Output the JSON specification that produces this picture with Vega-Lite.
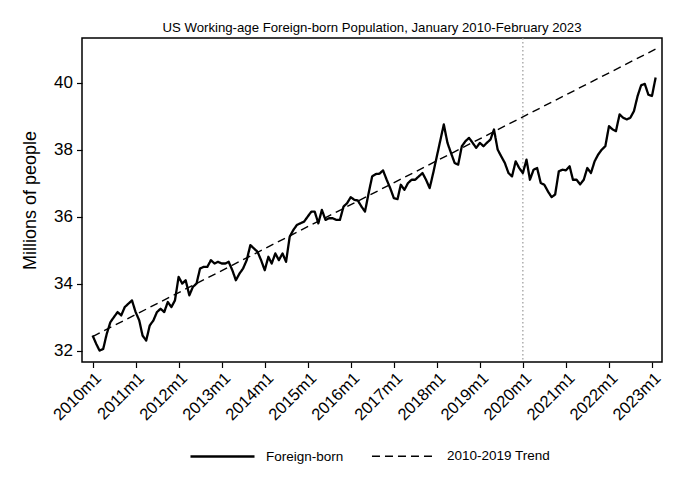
{
  "$schema": "https://vega.github.io/schema/vega-lite/v6.json",
  "width": 580,
  "height": 324,
  "padding": {"left": 21, "top": 21, "right": 15, "bottom": 5},
  "background": "white",
  "title": {"text": "US Working-age Foreign-born Population, January 2010-February 2023", "fontSize": 13.2, "font": "Liberation Sans", "fontWeight": "normal", "color": "black", "anchor": "middle", "offset": 2},
  "config": {
    "font": "Liberation Sans",
    "view": {"stroke": "black", "strokeWidth": 1.5},
    "axis": {"grid": false, "domain": false, "tickColor": "black", "tickSize": 5.5, "tickWidth": 1.2, "labelColor": "black", "titleColor": "black", "titleFontWeight": "normal"}
  },
  "datasets": {
    "pop": [
      {"date":"2010-01-01","series":"Foreign-born","value":32.45},
      {"date":"2010-02-01","series":"Foreign-born","value":32.2},
      {"date":"2010-03-01","series":"Foreign-born","value":32.0},
      {"date":"2010-04-01","series":"Foreign-born","value":32.05},
      {"date":"2010-05-01","series":"Foreign-born","value":32.5},
      {"date":"2010-06-01","series":"Foreign-born","value":32.85},
      {"date":"2010-07-01","series":"Foreign-born","value":33.0},
      {"date":"2010-08-01","series":"Foreign-born","value":33.15},
      {"date":"2010-09-01","series":"Foreign-born","value":33.05},
      {"date":"2010-10-01","series":"Foreign-born","value":33.3},
      {"date":"2010-11-01","series":"Foreign-born","value":33.4},
      {"date":"2010-12-01","series":"Foreign-born","value":33.5},
      {"date":"2011-01-01","series":"Foreign-born","value":33.15},
      {"date":"2011-02-01","series":"Foreign-born","value":32.9},
      {"date":"2011-03-01","series":"Foreign-born","value":32.45},
      {"date":"2011-04-01","series":"Foreign-born","value":32.3},
      {"date":"2011-05-01","series":"Foreign-born","value":32.75},
      {"date":"2011-06-01","series":"Foreign-born","value":32.9},
      {"date":"2011-07-01","series":"Foreign-born","value":33.15},
      {"date":"2011-08-01","series":"Foreign-born","value":33.25},
      {"date":"2011-09-01","series":"Foreign-born","value":33.15},
      {"date":"2011-10-01","series":"Foreign-born","value":33.45},
      {"date":"2011-11-01","series":"Foreign-born","value":33.3},
      {"date":"2011-12-01","series":"Foreign-born","value":33.5},
      {"date":"2012-01-01","series":"Foreign-born","value":34.2},
      {"date":"2012-02-01","series":"Foreign-born","value":34.0},
      {"date":"2012-03-01","series":"Foreign-born","value":34.1},
      {"date":"2012-04-01","series":"Foreign-born","value":33.65},
      {"date":"2012-05-01","series":"Foreign-born","value":33.9},
      {"date":"2012-06-01","series":"Foreign-born","value":34.0},
      {"date":"2012-07-01","series":"Foreign-born","value":34.45},
      {"date":"2012-08-01","series":"Foreign-born","value":34.5},
      {"date":"2012-09-01","series":"Foreign-born","value":34.5},
      {"date":"2012-10-01","series":"Foreign-born","value":34.7},
      {"date":"2012-11-01","series":"Foreign-born","value":34.6},
      {"date":"2012-12-01","series":"Foreign-born","value":34.65},
      {"date":"2013-01-01","series":"Foreign-born","value":34.6},
      {"date":"2013-02-01","series":"Foreign-born","value":34.6},
      {"date":"2013-03-01","series":"Foreign-born","value":34.65},
      {"date":"2013-04-01","series":"Foreign-born","value":34.4},
      {"date":"2013-05-01","series":"Foreign-born","value":34.1},
      {"date":"2013-06-01","series":"Foreign-born","value":34.3},
      {"date":"2013-07-01","series":"Foreign-born","value":34.45},
      {"date":"2013-08-01","series":"Foreign-born","value":34.7},
      {"date":"2013-09-01","series":"Foreign-born","value":35.15},
      {"date":"2013-10-01","series":"Foreign-born","value":35.05},
      {"date":"2013-11-01","series":"Foreign-born","value":34.95},
      {"date":"2013-12-01","series":"Foreign-born","value":34.7},
      {"date":"2014-01-01","series":"Foreign-born","value":34.4},
      {"date":"2014-02-01","series":"Foreign-born","value":34.8},
      {"date":"2014-03-01","series":"Foreign-born","value":34.6},
      {"date":"2014-04-01","series":"Foreign-born","value":34.9},
      {"date":"2014-05-01","series":"Foreign-born","value":34.7},
      {"date":"2014-06-01","series":"Foreign-born","value":34.9},
      {"date":"2014-07-01","series":"Foreign-born","value":34.65},
      {"date":"2014-08-01","series":"Foreign-born","value":35.4},
      {"date":"2014-09-01","series":"Foreign-born","value":35.6},
      {"date":"2014-10-01","series":"Foreign-born","value":35.75},
      {"date":"2014-11-01","series":"Foreign-born","value":35.8},
      {"date":"2014-12-01","series":"Foreign-born","value":35.85},
      {"date":"2015-01-01","series":"Foreign-born","value":36.0},
      {"date":"2015-02-01","series":"Foreign-born","value":36.15},
      {"date":"2015-03-01","series":"Foreign-born","value":36.15},
      {"date":"2015-04-01","series":"Foreign-born","value":35.8},
      {"date":"2015-05-01","series":"Foreign-born","value":36.2},
      {"date":"2015-06-01","series":"Foreign-born","value":35.9},
      {"date":"2015-07-01","series":"Foreign-born","value":35.95},
      {"date":"2015-08-01","series":"Foreign-born","value":35.95},
      {"date":"2015-09-01","series":"Foreign-born","value":35.9},
      {"date":"2015-10-01","series":"Foreign-born","value":35.9},
      {"date":"2015-11-01","series":"Foreign-born","value":36.3},
      {"date":"2015-12-01","series":"Foreign-born","value":36.4},
      {"date":"2016-01-01","series":"Foreign-born","value":36.58},
      {"date":"2016-02-01","series":"Foreign-born","value":36.5},
      {"date":"2016-03-01","series":"Foreign-born","value":36.48},
      {"date":"2016-04-01","series":"Foreign-born","value":36.3},
      {"date":"2016-05-01","series":"Foreign-born","value":36.15},
      {"date":"2016-06-01","series":"Foreign-born","value":36.7},
      {"date":"2016-07-01","series":"Foreign-born","value":37.2},
      {"date":"2016-08-01","series":"Foreign-born","value":37.27},
      {"date":"2016-09-01","series":"Foreign-born","value":37.28},
      {"date":"2016-10-01","series":"Foreign-born","value":37.38},
      {"date":"2016-11-01","series":"Foreign-born","value":37.1},
      {"date":"2016-12-01","series":"Foreign-born","value":36.85},
      {"date":"2017-01-01","series":"Foreign-born","value":36.55},
      {"date":"2017-02-01","series":"Foreign-born","value":36.52},
      {"date":"2017-03-01","series":"Foreign-born","value":36.95},
      {"date":"2017-04-01","series":"Foreign-born","value":36.8},
      {"date":"2017-05-01","series":"Foreign-born","value":37.0},
      {"date":"2017-06-01","series":"Foreign-born","value":37.1},
      {"date":"2017-07-01","series":"Foreign-born","value":37.1},
      {"date":"2017-08-01","series":"Foreign-born","value":37.2},
      {"date":"2017-09-01","series":"Foreign-born","value":37.3},
      {"date":"2017-10-01","series":"Foreign-born","value":37.1},
      {"date":"2017-11-01","series":"Foreign-born","value":36.85},
      {"date":"2017-12-01","series":"Foreign-born","value":37.3},
      {"date":"2018-01-01","series":"Foreign-born","value":37.8},
      {"date":"2018-02-01","series":"Foreign-born","value":38.3},
      {"date":"2018-03-01","series":"Foreign-born","value":38.75},
      {"date":"2018-04-01","series":"Foreign-born","value":38.2},
      {"date":"2018-05-01","series":"Foreign-born","value":37.9},
      {"date":"2018-06-01","series":"Foreign-born","value":37.6},
      {"date":"2018-07-01","series":"Foreign-born","value":37.55},
      {"date":"2018-08-01","series":"Foreign-born","value":38.1},
      {"date":"2018-09-01","series":"Foreign-born","value":38.25},
      {"date":"2018-10-01","series":"Foreign-born","value":38.35},
      {"date":"2018-11-01","series":"Foreign-born","value":38.2},
      {"date":"2018-12-01","series":"Foreign-born","value":38.05},
      {"date":"2019-01-01","series":"Foreign-born","value":38.2},
      {"date":"2019-02-01","series":"Foreign-born","value":38.1},
      {"date":"2019-03-01","series":"Foreign-born","value":38.2},
      {"date":"2019-04-01","series":"Foreign-born","value":38.3},
      {"date":"2019-05-01","series":"Foreign-born","value":38.6},
      {"date":"2019-06-01","series":"Foreign-born","value":38.0},
      {"date":"2019-07-01","series":"Foreign-born","value":37.8},
      {"date":"2019-08-01","series":"Foreign-born","value":37.6},
      {"date":"2019-09-01","series":"Foreign-born","value":37.3},
      {"date":"2019-10-01","series":"Foreign-born","value":37.2},
      {"date":"2019-11-01","series":"Foreign-born","value":37.65},
      {"date":"2019-12-01","series":"Foreign-born","value":37.45},
      {"date":"2020-01-01","series":"Foreign-born","value":37.3},
      {"date":"2020-02-01","series":"Foreign-born","value":37.7},
      {"date":"2020-03-01","series":"Foreign-born","value":37.1},
      {"date":"2020-04-01","series":"Foreign-born","value":37.4},
      {"date":"2020-05-01","series":"Foreign-born","value":37.45},
      {"date":"2020-06-01","series":"Foreign-born","value":37.0},
      {"date":"2020-07-01","series":"Foreign-born","value":36.95},
      {"date":"2020-08-01","series":"Foreign-born","value":36.75},
      {"date":"2020-09-01","series":"Foreign-born","value":36.58},
      {"date":"2020-10-01","series":"Foreign-born","value":36.66},
      {"date":"2020-11-01","series":"Foreign-born","value":37.35},
      {"date":"2020-12-01","series":"Foreign-born","value":37.4},
      {"date":"2021-01-01","series":"Foreign-born","value":37.38},
      {"date":"2021-02-01","series":"Foreign-born","value":37.5},
      {"date":"2021-03-01","series":"Foreign-born","value":37.1},
      {"date":"2021-04-01","series":"Foreign-born","value":37.1},
      {"date":"2021-05-01","series":"Foreign-born","value":36.96},
      {"date":"2021-06-01","series":"Foreign-born","value":37.1},
      {"date":"2021-07-01","series":"Foreign-born","value":37.45},
      {"date":"2021-08-01","series":"Foreign-born","value":37.3},
      {"date":"2021-09-01","series":"Foreign-born","value":37.65},
      {"date":"2021-10-01","series":"Foreign-born","value":37.85},
      {"date":"2021-11-01","series":"Foreign-born","value":38.0},
      {"date":"2021-12-01","series":"Foreign-born","value":38.1},
      {"date":"2022-01-01","series":"Foreign-born","value":38.7},
      {"date":"2022-02-01","series":"Foreign-born","value":38.6},
      {"date":"2022-03-01","series":"Foreign-born","value":38.55},
      {"date":"2022-04-01","series":"Foreign-born","value":39.05},
      {"date":"2022-05-01","series":"Foreign-born","value":38.95},
      {"date":"2022-06-01","series":"Foreign-born","value":38.9},
      {"date":"2022-07-01","series":"Foreign-born","value":38.95},
      {"date":"2022-08-01","series":"Foreign-born","value":39.15},
      {"date":"2022-09-01","series":"Foreign-born","value":39.6},
      {"date":"2022-10-01","series":"Foreign-born","value":39.92},
      {"date":"2022-11-01","series":"Foreign-born","value":39.96},
      {"date":"2022-12-01","series":"Foreign-born","value":39.64},
      {"date":"2023-01-01","series":"Foreign-born","value":39.6},
      {"date":"2023-02-01","series":"Foreign-born","value":40.15},
      {"date":"2010-01-01","series":"2010-2019 Trend","value":32.42},
      {"date":"2023-02-01","series":"2010-2019 Trend","value":41.0}
    ],
    "marker": [{"date":"2020-01-01"}]
  },
  "layer": [
    {
      "data": {"name": "marker"},
      "mark": {"type": "rule", "color": "#999999", "strokeWidth": 1.2, "strokeDash": [1.5, 2.5]},
      "encoding": {"x": {"field": "date", "type": "temporal"}}
    },
    {
      "data": {"name": "pop"},
      "mark": {"type": "line", "color": "black", "strokeJoin": "round"},
      "encoding": {
        "x": {
          "field": "date", "type": "temporal",
          "scale": {"type": "utc", "domain": [{"year": 2009, "month": 10, "date": 3, "utc": true}, {"year": 2023, "month": 3, "date": 27, "utc": true}]},
          "axis": {"title": null, "tickCount": {"interval": "year", "step": 1}, "labelExpr": "utcFormat(datum.value, '%Y') + 'm1'", "labelAngle": -45, "labelFontSize": 16.5, "labelPadding": 2, "labelFlush": false, "labelOverlap": false}
        },
        "y": {
          "field": "value", "type": "quantitative",
          "scale": {"domain": [31.66, 41.33], "nice": false, "zero": false},
          "axis": {"title": "Millions of people", "titleFontSize": 18, "labelFontSize": 17, "labelPadding": 4, "values": [32, 34, 36, 38, 40], "titlePadding": 14}
        },
        "detail": {"field": "series"},
        "strokeDash": {
          "field": "series", "type": "nominal",
          "scale": {"domain": ["Foreign-born", "2010-2019 Trend"], "range": [[1, 0], [8, 5]]},
          "legend": {"title": null, "orient": "none", "direction": "horizontal", "legendX": 107, "legendY": 385, "symbolType": "stroke", "symbolSize": 4100, "symbolStrokeColor": "black", "labelFontSize": 13.5, "labelColor": "black", "columnPadding": 25, "labelOffset": 10}
        },
        "strokeWidth": {
          "field": "series", "type": "nominal",
          "scale": {"domain": ["Foreign-born", "2010-2019 Trend"], "range": [2.3, 1.4]},
          "legend": null
        }
      }
    }
  ]
}
